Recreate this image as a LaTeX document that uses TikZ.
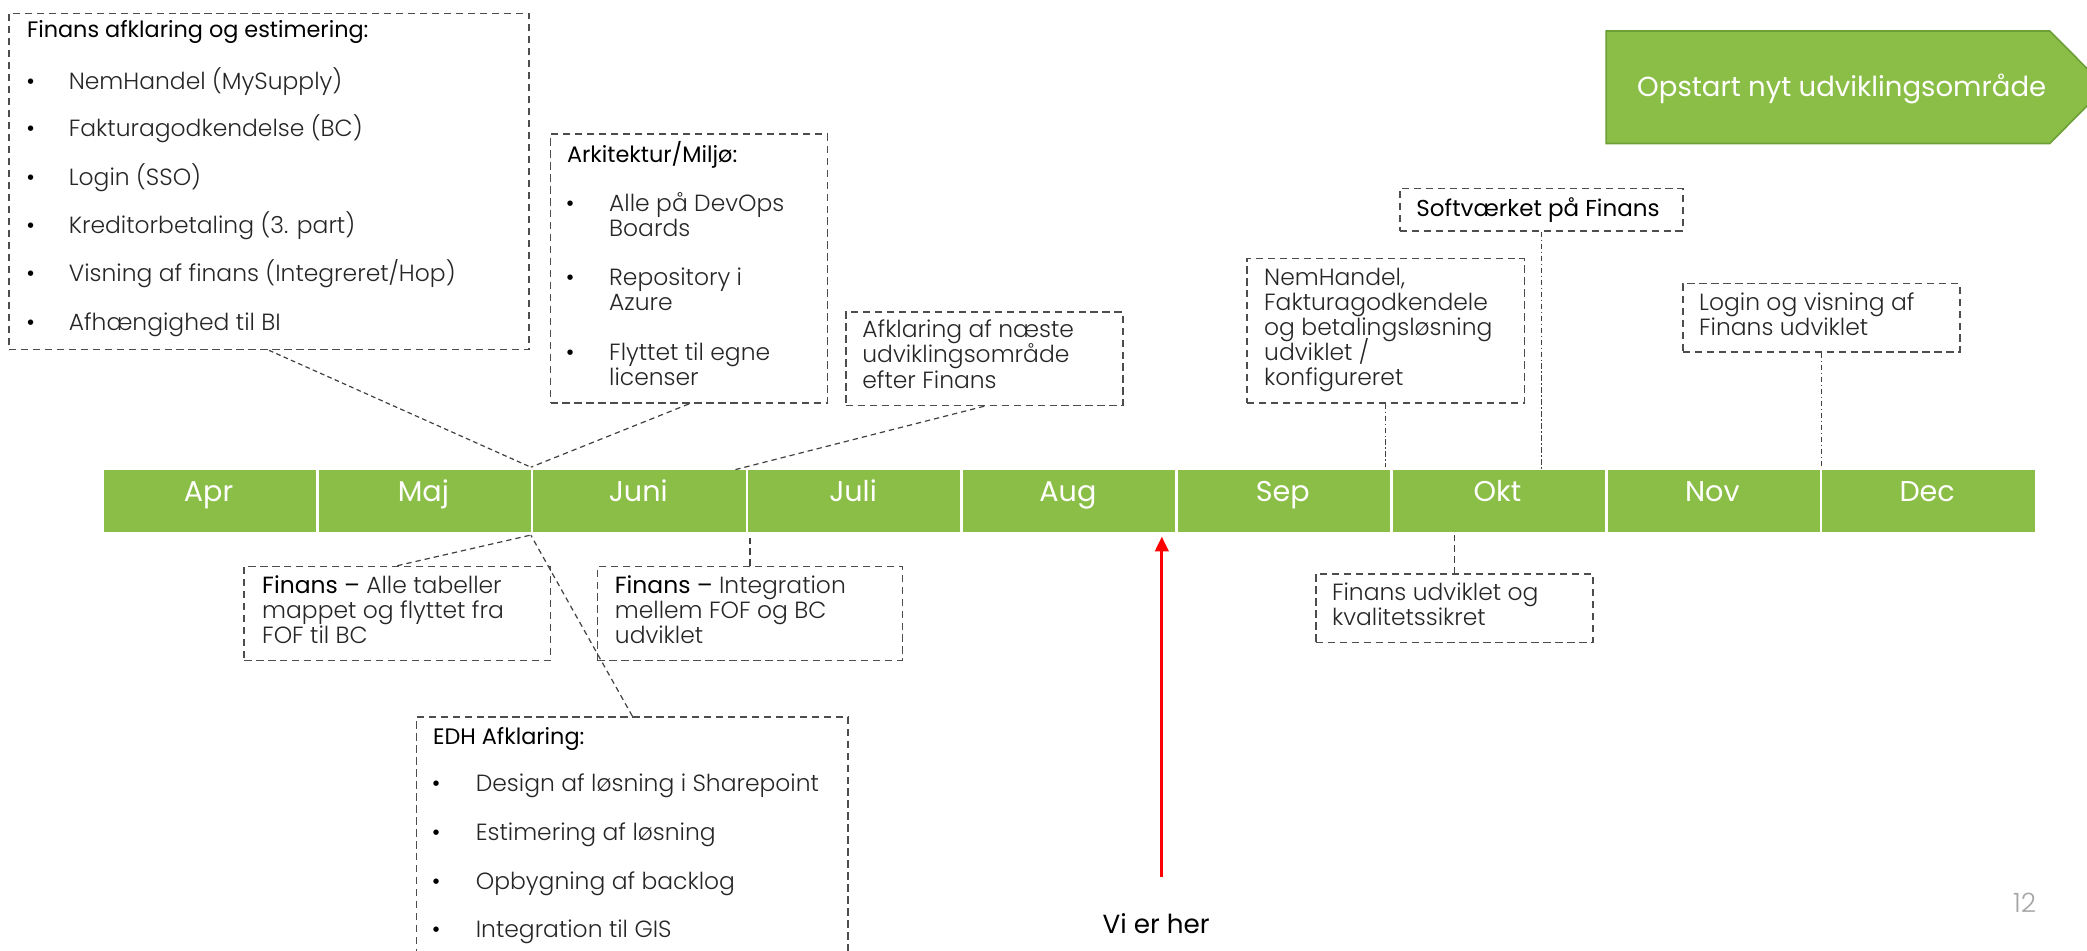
\documentclass[tikz,border=0pt]{standalone}
\usepackage{fontspec}
\usetikzlibrary{arrows.meta}
\setmainfont{Poppins}[UprightFont=* Light, BoldFont=Poppins]
\newfontfamily\regf{Poppins}
\definecolor{barg}{HTML}{8BBE47}
\definecolor{edgeg}{HTML}{6E9E36}
\definecolor{bgray}{HTML}{4D4D4D}
\definecolor{tgray}{HTML}{262626}
\definecolor{cgray}{HTML}{404040}
\definecolor{pgray}{HTML}{A6A6A6}
\begin{document}
\begin{tikzpicture}[x=1pt,y=-1pt,
  dbox/.style={draw=bgray, line width=1.2pt, dash pattern=on 5.5pt off 3.5pt, inner sep=0pt, anchor=north west},
  tx/.style={anchor=base west, inner sep=0pt, text=tgray, font=\fontsize{17.6}{20}\selectfont},
  ttl/.style={anchor=base west, inner sep=0pt, text=black, font=\fontsize{16.8}{20}\selectfont\bfseries},
  bul/.style={anchor=base, inner sep=0pt, text=black, font=\fontsize{17.6}{20}\selectfont},
  month/.style={fill=barg, draw=white, line width=2pt, minimum width=161.4pt, minimum height=49pt, inner sep=0pt, anchor=north west},
  mlab/.style={anchor=base, inner sep=0pt, text=white, font=\fontsize{21.5}{24}\regf},
  connA/.style={draw=cgray, line width=0.9pt, dash pattern=on 3.5pt off 2.5pt},
  connB/.style={draw=cgray, line width=0.9pt, dash pattern=on 4pt off 3pt},
  connC/.style={draw=cgray, line width=0.9pt, dash pattern=on 4pt off 2pt on 1pt off 2pt},
  connD/.style={draw=cgray, line width=1.1pt, dash pattern=on 5pt off 3pt},
]
\useasboundingbox (0,0) rectangle (1568,714.5);
\clip (0,0) rectangle (1568,714.5);

% timeline
\foreach \m [count=\i from 0] in {Apr,Maj,Juni,Juli,Aug,Sep,Okt,Nov,Dec} {
  \node[month] (m\i) at ({76+161.4*\i},351) {};
  \node[mlab] (ml\i) at ({156.7+161.4*\i},377) {\m};
}

% start arrow shape
\draw[fill=barg, draw=edgeg, line width=1.2pt] (1206.7,23.3) -- (1540,23.3) -- (1582,65.5) -- (1540,107.8) -- (1206.7,107.8) -- cycle;
\node[anchor=base, inner sep=0pt, text=white, font=\fontsize{20.7}{24}\regf] (opstart) at (1383.7,72.7) {Opstart nyt udviklingsområde};

% box 1
\node[dbox, minimum width=391pt, minimum height=252.5pt] (b1) at (6,9.5) {};
\node[ttl] (b1t) at (20.1,28.1) {Finans afklaring og estimering:};
\foreach \y/\t [count=\i] in {67.2/{NemHandel (MySupply)}, 102.8/{Fakturagodkendelse (BC)}, 139.1/{Login (SSO)}, 175.4/{Kreditorbetaling (3. part)}, 211.8/{Visning af finans (Integreret/Hop)}, 248.1/{Afhængighed til BI}} {
  \node[bul] (b1d\i) at (23.1,\y) {•};
  \node[tx] (b1l\i) at (51.5,\y) {\t};
}

% box 2
\node[dbox, minimum width=208pt, minimum height=202pt] (b2) at (413,100.3) {};
\node[ttl] (b2t) at (425.8,121.8) {Arkitektur/Miljø:};
\foreach \y [count=\i] in {158.6,214.3,270.5} {
  \node[bul] (b2d\i) at (428.4,\y) {•};
}
\foreach \y/\t [count=\i] in {158.6/{Alle på DevOps}, 177.5/{Boards}, 214.3/{Repository i}, 233.2/{Azure}, 270.5/{Flyttet til egne}, 289.4/{licenser}} {
  \node[tx] (b2l\i) at (457.5,\y) {\t};
}

% box 3
\node[dbox, minimum width=208pt, minimum height=70.3pt] (b3) at (634.9,233.7) {};
\foreach \y/\t [count=\i] in {253.5/{Afklaring af næste}, 272.7/{udviklingsområde}, 292/{efter Finans}} {
  \node[tx] (b3l\i) at (647.7,\y) {\t};
}

% box 4
\node[dbox, minimum width=208.3pt, minimum height=108.5pt] (b4) at (936.4,193.5) {};
\foreach \y/\t [count=\i] in {214.3/{NemHandel,}, 233/{Fakturagodkendele}, 251.9/{og betalingsløsning}, 270.7/{udviklet /}, 289.5/{konfigureret}} {
  \node[tx] (b4l\i) at (949.6,\y) {\t};
}

% box 5
\node[dbox, minimum width=212.5pt, minimum height=32pt] (b5) at (1051.2,140.9) {};
\node[ttl, font=\fontsize{17.3}{20}\selectfont\bfseries] (b5t) at (1064,162.4) {Softværket på Finans};

% box 6
\node[dbox, minimum width=208.3pt, minimum height=51.4pt] (b6) at (1263.7,212.5) {};
\foreach \y/\t [count=\i] in {233/{Login og visning af}, 251.9/{Finans udviklet}} {
  \node[tx] (b6l\i) at (1276.4,\y) {\t};
}

% box 7
\node[dbox, minimum width=230pt, minimum height=70.5pt] (b7) at (182.9,425) {};
\foreach \y/\t [count=\i] in {445.8/{\textcolor{black}{\bfseries Finans –} Alle tabeller}, 464.6/{mappet og flyttet fra}, 483.4/{FOF til BC}} {
  \node[tx] (b7l\i) at (196.8,\y) {\t};
}

% box 8
\node[dbox, minimum width=229.1pt, minimum height=70.5pt] (b8) at (448.3,425) {};
\foreach \y/\t [count=\i] in {445.8/{\textcolor{black}{\bfseries Finans –} Integration}, 464.6/{mellem FOF og BC}, 483.4/{udviklet}} {
  \node[tx] (b8l\i) at (461.8,\y) {\t};
}

% box 9
\node[dbox, minimum width=324.3pt, minimum height=230pt] (b9) at (312.3,538) {};
\node[ttl] (b9t) at (325.2,559) {EDH Afklaring:};
\foreach \y/\t [count=\i] in {595/{Design af løsning i Sharepoint}, 631.8/{Estimering af løsning}, 668.4/{Opbygning af backlog}, 704/{Integration til GIS}} {
  \node[bul] (b9d\i) at (327.6,\y) {•};
  \node[tx] (b9l\i) at (357.3,\y) {\t};
}

% box 10
\node[dbox, minimum width=208.2pt, minimum height=51.4pt] (b10) at (987.9,430.8) {};
\foreach \y/\t [count=\i] in {450.9/{Finans udviklet og}, 469.7/{kvalitetssikret}} {
  \node[tx] (b10l\i) at (1000.6,\y) {\t};
}

% connectors
\coordinate (c3) at (552.6,352.8);
\draw[connA] (b1.south) -- (m2.north west);
\draw[connB] (b2.south) -- (m2.north west);
\draw[connB] (b3.south) -- (c3);
\draw[connC] (b4.south) -- (b4.south |- m5.north);
\draw[connC] (b5.south) -- ([yshift=-2pt]b5.south |- m6.north);
\draw[connC] (b6.south) -- (b6.south |- m8.north);
\draw[connB] (b7.north) -- (m2.south west);
\draw[connB] (b9.north) -- (m2.south west);
\draw[connD] (b8.north) -- (b8.north |- m3.south);
\draw[connD] (b10.north) -- (b10.north |- m6.south);

% here marker
\coordinate (vi) at (872.9,658.9);
\coordinate (vitip) at (872.9,403.2);
\draw[red, line width=2.2pt, -{Triangle[width=10pt,length=11pt]}] (vi) -- (vitip);
\node[anchor=base west, inner sep=0pt, text=black, font=\fontsize{19.7}{22}\regf] (vitext) at (828.3,701.5) {Vi er her};

\node[anchor=base west, inner sep=0pt, text=pgray, font=\fontsize{20}{22}\selectfont] (pagenum) at (1512.3,685.2) {12};
\end{tikzpicture}
\end{document}
